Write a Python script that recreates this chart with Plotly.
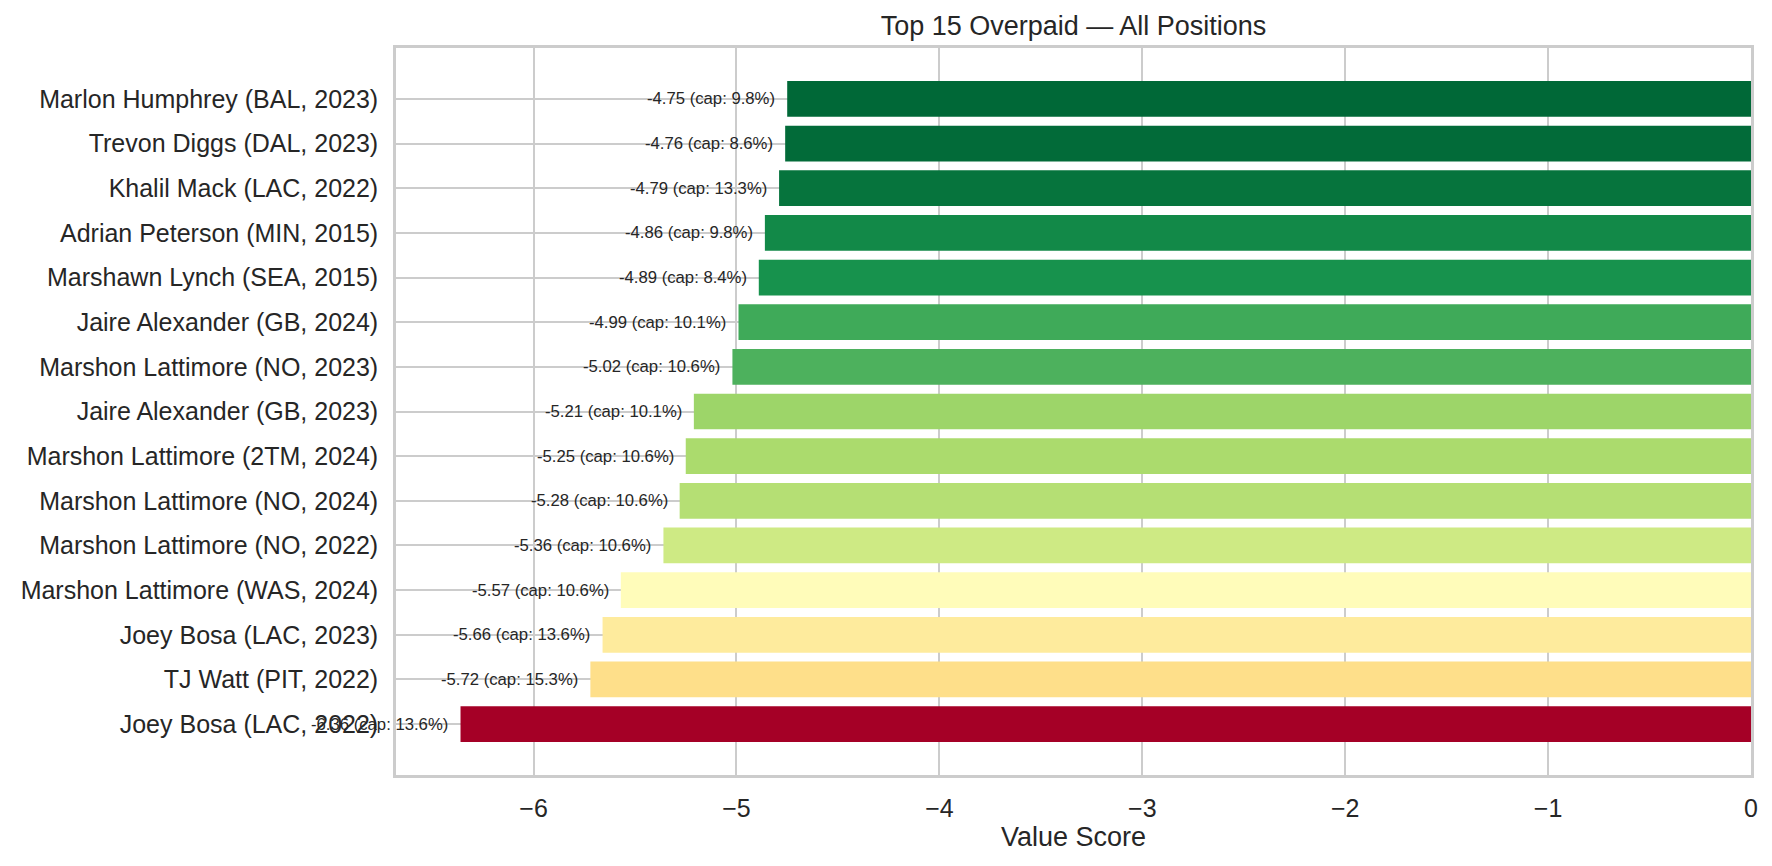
import plotly.graph_objects as go
import plotly.express as px

players = [
    "Marlon Humphrey (BAL, 2023)",
    "Trevon Diggs (DAL, 2023)",
    "Khalil Mack (LAC, 2022)",
    "Adrian Peterson (MIN, 2015)",
    "Marshawn Lynch (SEA, 2015)",
    "Jaire Alexander (GB, 2024)",
    "Marshon Lattimore (NO, 2023)",
    "Jaire Alexander (GB, 2023)",
    "Marshon Lattimore (2TM, 2024)",
    "Marshon Lattimore (NO, 2024)",
    "Marshon Lattimore (NO, 2022)",
    "Marshon Lattimore (WAS, 2024)",
    "Joey Bosa (LAC, 2023)",
    "TJ Watt (PIT, 2022)",
    "Joey Bosa (LAC, 2022)",
]
value_scores = [-4.75, -4.76, -4.79, -4.86, -4.89, -4.99, -5.02, -5.21, -5.25,
                -5.28, -5.36, -5.57, -5.66, -5.72, -6.36]
cap_pcts = [9.8, 8.6, 13.3, 9.8, 8.4, 10.1, 10.6, 10.1, 10.6, 10.6, 10.6,
            10.6, 13.6, 15.3, 13.6]
x_ticks = [-6, -5, -4, -3, -2, -1, 0]

FONT = "Arial, Liberation Sans, sans-serif"
TEXT = "#262626"
GRID = "#cccccc"

vmin, vmax = min(value_scores), max(value_scores)
norm = [(v - vmin) / (vmax - vmin) for v in value_scores]
colors = px.colors.sample_colorscale("RdYlGn", norm)

fig = go.Figure()
fig.add_trace(go.Bar(
    x=value_scores, y=players, orientation="h",
    marker=dict(color=colors, line=dict(width=0)),
    hoverinfo="x+y",
))

x_lo = vmin - 0.05 * (0 - vmin)
offset = 0.05
for p, v, c in zip(players, value_scores, cap_pcts):
    fig.add_annotation(
        x=v - offset, y=p, xref="x", yref="y",
        text=f"{v:.2f} (cap: {c:.1f}%)",
        xanchor="right", yanchor="middle", showarrow=False,
        font=dict(family=FONT, size=16.7, color=TEXT),
    )

n = len(players)
pad = 0.05 * ((n - 1) + 0.8)
fig.update_layout(
    width=1772, height=866,
    margin=dict(l=396, r=21, t=48, b=91),
    paper_bgcolor="white", plot_bgcolor="white",
    bargap=0.2,
    showlegend=False,
    title=dict(text="Top 15 Overpaid — All Positions", x=(396 + 1751) / 2 / 1772,
               xanchor="center", y=1 - 26 / 866, yanchor="middle",
               xref="container", yref="container",
               font=dict(family=FONT, size=27, color=TEXT)),
    font=dict(family=FONT, color=TEXT),
)
fig.update_xaxes(
    range=[x_lo, 0], tickvals=x_ticks, showgrid=True, gridcolor=GRID, gridwidth=2,
    zeroline=False, showline=True, linecolor=GRID, linewidth=2.6, mirror=True,
    ticks="", ticklabelstandoff=9,
    tickfont=dict(family=FONT, size=25, color=TEXT),
    title=dict(text="Value Score", font=dict(family=FONT, size=27, color=TEXT), standoff=5),
)
fig.update_yaxes(
    range=[n - 1 + 0.4 + pad, -0.4 - pad], showgrid=True, gridcolor=GRID, gridwidth=2,
    zeroline=False, showline=True, linecolor=GRID, linewidth=2.6, mirror=True,
    ticks="", ticklabelstandoff=10,
    tickfont=dict(family=FONT, size=25, color=TEXT),
)

fig.write_html("out.html")
